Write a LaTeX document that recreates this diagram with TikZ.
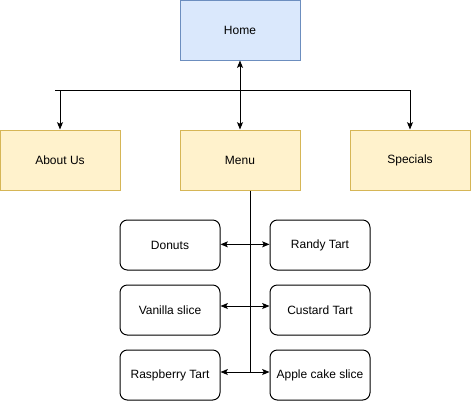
\documentclass[tikz,border=0pt]{standalone}
\usepackage{fontspec}
\setmainfont{Liberation Sans}
\usetikzlibrary{arrows.meta}
\definecolor{homefill}{HTML}{DAE8FC}
\definecolor{homeline}{HTML}{6C8EBF}
\definecolor{pagefill}{HTML}{FFF2CC}
\definecolor{pageline}{HTML}{D6B656}
\begin{document}
\begin{tikzpicture}[x=0.75pt,y=-0.75pt,line width=0.75pt,font=\fontsize{9pt}{11pt}\selectfont,
        tip/.style={-{Stealth[length=5.5pt,width=4.5pt,inset=1.2pt]}},
        twotip/.style={{Stealth[length=5.5pt,width=4.5pt,inset=1.2pt]}-{Stealth[length=5.5pt,width=4.5pt,inset=1.2pt]}},
        homebox/.style={draw=homeline,fill=homefill,minimum width=90pt,minimum height=45pt,inner sep=0pt},
        pagebox/.style={draw=pageline,fill=pagefill,minimum width=90pt,minimum height=45pt,inner sep=0pt},
        itembox/.style={draw=black,fill=white,rounded corners=5.5pt,minimum width=75pt,minimum height=37.5pt,inner sep=0pt}]
            \useasboundingbox (0,0) rectangle (471,401);

            \node[homebox] (home) at (240,30) {Home};
            \node[pagebox] (about) at (60,160) {About Us};
            \node[pagebox] (menu) at (240,160) {Menu};
            \node[pagebox] (specials) at (410,160) {Specials};

            \node[itembox] (donuts) at (170,245) {Donuts};
            \node[itembox] (randy) at (320,245) {Randy Tart};
            \node[itembox] (vanilla) at (170,310) {Vanilla slice};
            \node[itembox] (custard) at (320,310) {Custard Tart};
            \node[itembox] (raspberry) at (170,375) {Raspberry Tart};
            \node[itembox] (apple) at (320,375) {Apple cake slice};

            \coordinate (bus) at (55,90);
            \coordinate (spine) at (250,372);

            \draw[twotip] (home) -- (menu);
            \draw[tip] (bus) -| (specials.north);
            \draw[tip] (about.north |- bus) -- (about.north);
            \draw (spine |- menu.south) -- (spine);

            \draw[twotip] ([yshift=0.5pt]donuts.east) -- ([yshift=0.5pt]randy.west);
            \draw[twotip] ([yshift=3pt]vanilla.east) -- ([yshift=3pt]custard.west);
            \draw[twotip] ([yshift=2.25pt]raspberry.east) -- ([yshift=2.25pt]apple.west);
        \end{tikzpicture}
\end{document}
